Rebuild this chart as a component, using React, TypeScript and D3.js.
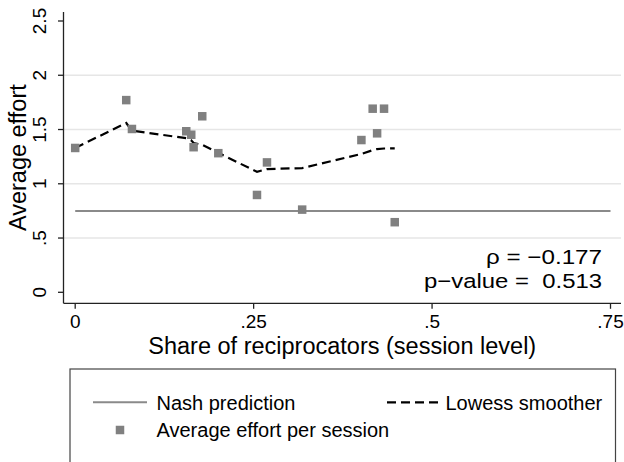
import React from "react";
import * as d3 from "d3";

const shareX = [0, 0.0715, 0.0795, 0.1556, 0.1626, 0.1659, 0.178, 0.2005, 0.2547, 0.2687, 0.318, 0.401, 0.4168, 0.423, 0.4327, 0.4477];
const effortY = [1.33, 1.771, 1.505, 1.484, 1.452, 1.337, 1.622, 1.282, 0.897, 1.197, 0.762, 1.403, 1.692, 1.465, 1.692, 0.646];
const lowessY = [1.33, 1.56, 1.49, 1.42, 1.4, 1.375, 1.36, 1.285, 1.11, 1.135, 1.145, 1.275, 1.31, 1.32, 1.325, 1.326];
const nashValue = 0.75;
const nashRange = [0, 0.75];
const xTicks = [0, 0.25, 0.5, 0.75];
const xTickLabels = ["0", ".25", ".5", ".75"];
const yTicks = [0, 0.5, 1, 1.5, 2, 2.5];
const yTickLabels = ["0", ".5", "1", "1.5", "2", "2.5"];
const yGrid = [0.5, 1, 1.5, 2];
const rhoText = "ρ = −0.177";
const pText = "p−value =  0.513";
const xTitle = "Share of reciprocators (session level)";
const yTitle = "Average effort";
const legendLabels = ["Nash prediction", "Lowess smoother", "Average effort per session"];

const FONT = "'Liberation Sans', Arial, Helvetica, sans-serif";

export default function App() {
  const W = 624, H = 462;
  const x = d3.scaleLinear().domain([0, 0.75]).range([75.2, 610.5]);
  const y = d3.scaleLinear().domain([0, 2.5]).range([292.3, 21]);
  const plotLeft = 63.5, plotRight = 621, plotTop = 12, plotBottom = 303.3;

  const lowessLine = d3.line<number>()
    .x((_, i) => x(shareX[i]))
    .y((d) => y(d));

  const markerSize = 8.5;

  return (
    <svg width={W} height={H} style={{ position: "absolute", left: 0, top: 0, background: "#fff" }} fontFamily={FONT}>
      <rect x={0} y={0} width={W} height={H} fill="#fff" />
      {yGrid.map((g) => (
        <line key={"g" + g} x1={plotLeft} x2={plotRight} y1={y(g)} y2={y(g)} stroke="#e6e6e6" strokeWidth={1.5} />
      ))}
      <line x1={x(nashRange[0])} x2={x(nashRange[1])} y1={y(nashValue)} y2={y(nashValue)} stroke="#8a8a8a" strokeWidth={2} />
      <path d={lowessLine(lowessY) || ""} fill="none" stroke="#000" strokeWidth={2.2} strokeDasharray="9,5" />
      {shareX.map((sx, i) => (
        <rect key={"p" + i} x={x(sx) - markerSize / 2} y={y(effortY[i]) - markerSize / 2} width={markerSize} height={markerSize} fill="#808080" />
      ))}
      <line x1={plotLeft} x2={plotLeft} y1={plotTop} y2={plotBottom} stroke="#222" strokeWidth={1.3} />
      <line x1={plotLeft} x2={plotRight} y1={plotBottom} y2={plotBottom} stroke="#222" strokeWidth={1.3} />
      {yTicks.map((t, i) => (
        <g key={"yt" + t}>
          <line x1={plotLeft - 5.5} x2={plotLeft} y1={y(t)} y2={y(t)} stroke="#222" strokeWidth={1.3} />
          <text transform={`translate(${46},${y(t)}) rotate(-90)`} textAnchor="middle" fontSize={19} fill="#000">{yTickLabels[i]}</text>
        </g>
      ))}
      {xTicks.map((t, i) => (
        <g key={"xt" + t}>
          <line x1={x(t)} x2={x(t)} y1={plotBottom} y2={plotBottom + 5.5} stroke="#222" strokeWidth={1.3} />
          <text x={x(t)} y={328} textAnchor="middle" fontSize={19} fill="#000">{xTickLabels[i]}</text>
        </g>
      ))}
      <text x={(plotLeft + plotRight) / 2} y={354} textAnchor="middle" fontSize={23.5} fill="#000">{xTitle}</text>
      <text transform={`translate(${25.5},${(plotTop + plotBottom) / 2}) rotate(-90)`} textAnchor="middle" fontSize={23.5} fill="#000">{yTitle}</text>
      <text x={602} y={264} textAnchor="end" fontSize={20.5} fill="#000" textLength={116} lengthAdjust="spacingAndGlyphs" style={{ whiteSpace: "pre" }}>{rhoText}</text>
      <text x={602} y={287.5} textAnchor="end" fontSize={20.5} fill="#000" textLength={178} lengthAdjust="spacingAndGlyphs" style={{ whiteSpace: "pre" }}>{pText}</text>
      <rect x={70} y={369} width={545.5} height={110} fill="#fff" stroke="#444" strokeWidth={1.2} />
      <line x1={93} x2={147} y1={402.3} y2={402.3} stroke="#8a8a8a" strokeWidth={2} />
      <text x={156.5} y={410} fontSize={20} fill="#000">{legendLabels[0]}</text>
      <line x1={387} x2={441} y1={402.3} y2={402.3} stroke="#000" strokeWidth={2.2} strokeDasharray="9,5" />
      <text x={445.5} y={410} fontSize={20} fill="#000">{legendLabels[1]}</text>
      <rect x={120 - markerSize / 2} y={430 - markerSize / 2} width={markerSize} height={markerSize} fill="#808080" />
      <text x={156.5} y={437} fontSize={20} fill="#000">{legendLabels[2]}</text>
    </svg>
  );
}
